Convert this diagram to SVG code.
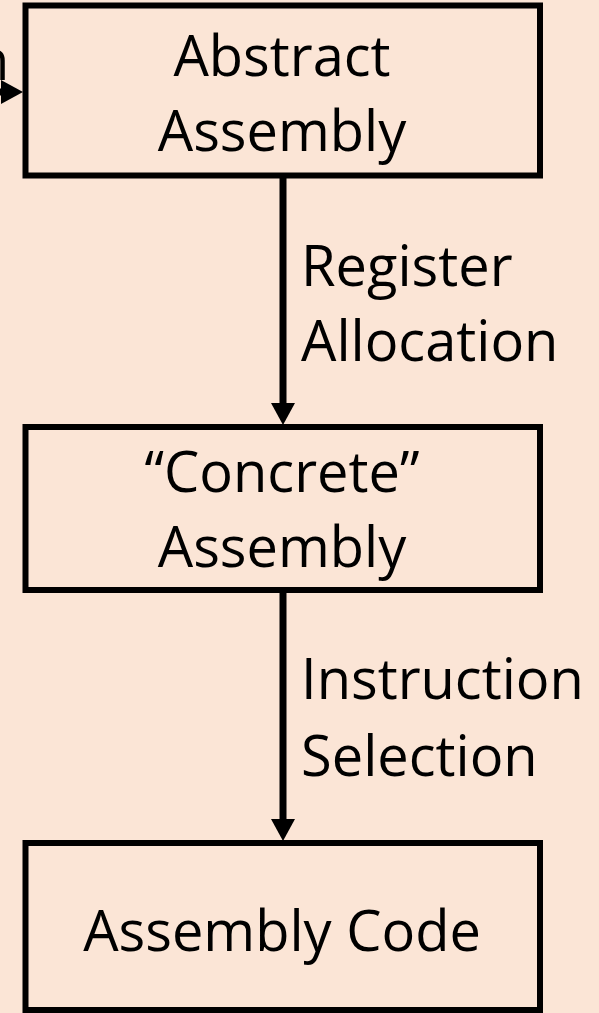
<svg xmlns="http://www.w3.org/2000/svg" width="599" height="1013" viewBox="0 0 599 1013">
  <style>
    .box { fill: #FBE5D6; stroke: #000; stroke-width: 6; }
    .t { font-family: "Open Sans", "Liberation Sans", sans-serif; font-size: 56px; fill: #000; }
    .c { text-anchor: middle; }
    .edge { stroke: #000; stroke-width: 7; fill: none; }
  </style>
  <defs>
    <marker id="ah" markerUnits="userSpaceOnUse" viewBox="0 0 22 24" markerWidth="22" markerHeight="24" refX="0" refY="12" orient="auto">
      <path d="M0,0 L22,12 L0,24 Z" fill="#000"/>
    </marker>
  </defs>
  <rect width="599" height="1013" fill="#FBE5D6"/>

  <g id="incoming">
    <text class="t" x="-25" y="80">n</text>
  </g>

  <g id="connectors">
    <line class="edge" x1="-10" y1="92" x2="1" y2="92" marker-end="url(#ah)"/>
    <line class="edge" x1="283" y1="178" x2="283" y2="403" marker-end="url(#ah)"/>
    <line class="edge" x1="283" y1="590" x2="283" y2="819" marker-end="url(#ah)"/>
  </g>

  <g id="label-regalloc">
    <text class="t" x="301" y="286">Register</text>
    <text class="t" x="301" y="361">Allocation</text>
  </g>
  <g id="label-isel">
    <text class="t" x="301" y="699">Instruction</text>
    <text class="t" x="301" y="776">Selection</text>
  </g>

  <g id="abstract-assembly">
    <rect class="box" x="25.5" y="5.5" width="514.5" height="170"/>
    <text class="t c" x="282" y="76">Abstract</text>
    <text class="t c" x="282" y="151">Assembly</text>
  </g>

  <g id="concrete-assembly">
    <rect class="box" x="25.5" y="427" width="514.5" height="163"/>
    <text class="t c" x="282" y="492">“Concrete”</text>
    <text class="t c" x="282" y="567">Assembly</text>
  </g>

  <g id="assembly-code">
    <rect class="box" x="25.5" y="843" width="514.5" height="167"/>
    <text class="t c" x="282" y="951">Assembly Code</text>
  </g>
</svg>
